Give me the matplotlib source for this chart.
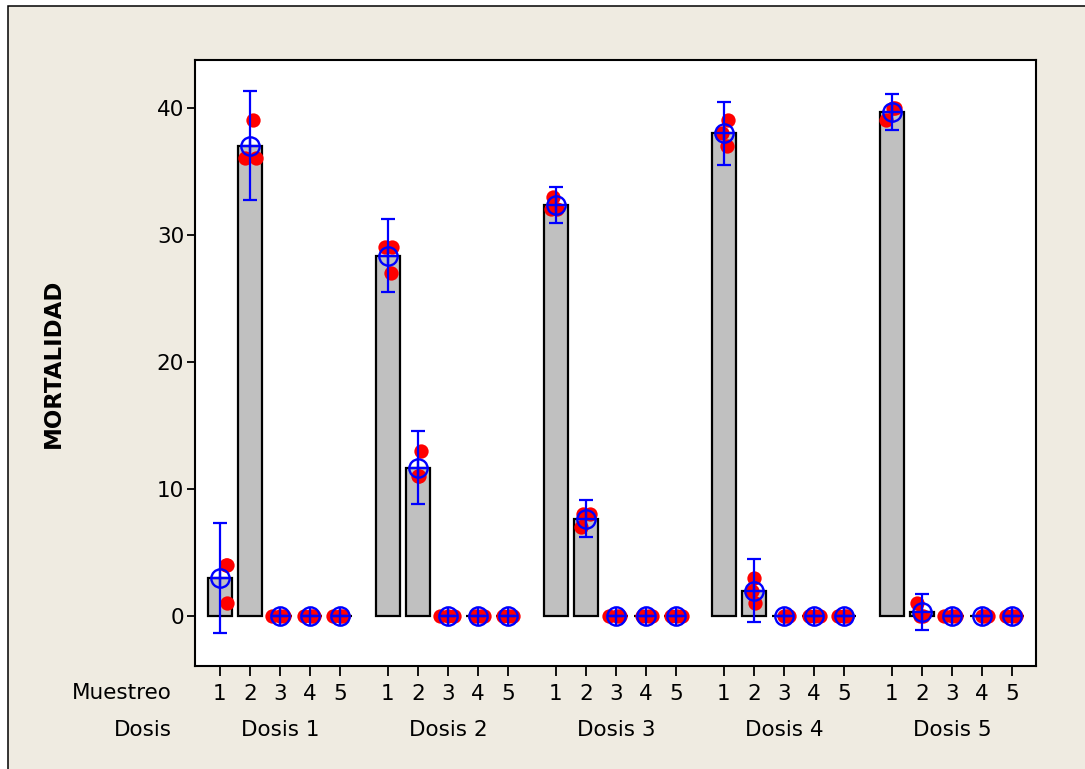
import matplotlib
matplotlib.use("Agg")
import matplotlib.pyplot as plt
import matplotlib.transforms as mtransforms
from matplotlib.patches import Rectangle

# ---------------- data ----------------
dosis = ["Dosis 1", "Dosis 2", "Dosis 3", "Dosis 4", "Dosis 5"]
muestreo = ["1", "2", "3", "4", "5"]

# mean mortality per (dosis, muestreo)
medias_d1 = [3.0, 37.0, 0, 0, 0]
medias_d2 = [28.33, 11.67, 0, 0, 0]
medias_d3 = [32.33, 7.67, 0, 0, 0]
medias_d4 = [38.0, 2.0, 0, 0, 0]
medias_d5 = [39.67, 0.33, 0, 0, 0]
medias = [medias_d1, medias_d2, medias_d3, medias_d4, medias_d5]

# 95% CI half-widths
ic_d1 = [4.3, 4.3, 0, 0, 0]
ic_d2 = [2.87, 2.87, 0, 0, 0]
ic_d3 = [1.43, 1.43, 0, 0, 0]
ic_d4 = [2.48, 2.48, 0, 0, 0]
ic_d5 = [1.43, 1.43, 0, 0, 0]
ic95 = [ic_d1, ic_d2, ic_d3, ic_d4, ic_d5]

# individual observations (3 per cell)
obs_d1 = [[4, 4, 1], [39, 36, 36], [0, 0, 0], [0, 0, 0], [0, 0, 0]]
obs_d2 = [[29, 29, 27], [13, 11, 11], [0, 0, 0], [0, 0, 0], [0, 0, 0]]
obs_d3 = [[33, 32, 32], [8, 8, 7], [0, 0, 0], [0, 0, 0], [0, 0, 0]]
obs_d4 = [[39, 38, 37], [3, 2, 1], [0, 0, 0], [0, 0, 0], [0, 0, 0]]
obs_d5 = [[40, 39, 40], [1, 0, 0], [0, 0, 0], [0, 0, 0], [0, 0, 0]]
observaciones = [obs_d1, obs_d2, obs_d3, obs_d4, obs_d5]

# horizontal jitter of the individual points (in category units)
jit_d1 = [[0.2, 0.25, 0.22], [0.1, -0.15, 0.2], [-0.25, 0.0, 0.12], [-0.2, 0.05, 0.15], [-0.22, 0.1, 0.0]]
jit_d2 = [[-0.1, 0.15, 0.1], [0.1, 0.0, 0.05], [-0.28, 0.0, 0.2], [-0.1, 0.1, 0.2], [-0.15, 0.05, 0.18]]
jit_d3 = [[-0.1, -0.15, 0.05], [-0.1, 0.15, -0.15], [-0.22, 0.05, 0.12], [-0.12, 0.1, 0.2], [-0.15, 0.05, 0.2]]
jit_d4 = [[0.15, -0.05, 0.1], [0.0, -0.05, 0.05], [0.0, 0.1, 0.18], [-0.15, 0.05, 0.2], [-0.2, 0.1, 0.0]]
jit_d5 = [[0.05, -0.2, 0.1], [-0.15, -0.05, 0.05], [-0.25, 0.0, 0.12], [0.0, 0.1, 0.2], [-0.2, 0.0, 0.12]]
jitter = [jit_d1, jit_d2, jit_d3, jit_d4, jit_d5]

# ---------------- figure ----------------
W, H = 1085, 769
fig = plt.figure(figsize=(W / 100, H / 100), dpi=100, facecolor="white")
plt.rcParams["font.family"] = ["DejaVu Sans"]

beige = "#EFEBE1"
frame = Rectangle((8.3 / W, -0.05), 1.2, 1 - 6.3 / H + 0.05, transform=fig.transFigure,
                  facecolor=beige, edgecolor="black", linewidth=1.1, zorder=-10)
fig.patches.append(frame)

left, right = 195.3 / W, 1036 / W
bottom, top = 1 - 665.7 / H, 1 - 60 / H
ax = fig.add_axes([left, bottom, right - left, top - bottom])
ax.set_zorder(1)
ax.set_facecolor("white")

gstep = 5.6
positions, labels = [], []
for g in range(len(dosis)):
    for i in range(len(muestreo)):
        positions.append(g * gstep + i)
        labels.append(muestreo[i])

blue = "#0000FF"
red = "#FF0000"

for g in range(len(dosis)):
    for i in range(len(muestreo)):
        x = g * gstep + i
        m = medias[g][i]
        ax.bar(x, m, width=0.83, color="#C0C0C0", edgecolor="black", linewidth=1.6, zorder=2)
        xs = [x + j for j in jitter[g][i]]
        ax.plot(xs, observaciones[g][i], "o", color=red, markersize=10.3,
                markeredgewidth=0, linestyle="none", zorder=3)
        ax.errorbar(x, m, yerr=ic95[g][i], fmt="none", ecolor=blue, elinewidth=1.6,
                    capsize=5, capthick=1.6, zorder=4)
        ax.plot(x, m, "o", markersize=13.2, markerfacecolor="none", markeredgecolor=blue,
                markeredgewidth=1.7, zorder=5)
        ax.plot(x, m, "+", markersize=13.2, color=blue, markeredgewidth=1.7, zorder=5)

ax.set_xlim(-0.823, 27.2)
ax.set_ylim(-3.91, 43.75)

ax.set_xticks(positions)
ax.set_xticklabels(labels, fontsize=15.5)
ax.set_yticks([0, 10, 20, 30, 40])
ax.set_yticklabels(["0", "10", "20", "30", "40"], fontsize=15.5)
ax.tick_params(axis="x", direction="out", length=7.5, width=1.3, pad=6, colors="black")
ax.tick_params(axis="y", direction="out", length=6, width=1.3, pad=2, colors="black")
for s in ax.spines.values():
    s.set_linewidth(1.5)
    s.set_color("black")

# row labels
fig.text(172 / W, 1 - 693 / H, "Muestreo", ha="right", va="center", fontsize=15.5)
fig.text(172 / W, 1 - 730 / H, "Dosis", ha="right", va="center", fontsize=15.5)
trans = mtransforms.blended_transform_factory(ax.transData, fig.transFigure)
for g, name in enumerate(dosis):
    ax.text(g * gstep + 2, 1 - 730 / H, name, transform=trans, ha="center", va="center",
            fontsize=15.5, clip_on=False)

fig.text(53 / W, 1 - 363 / H, "MORTALIDAD", rotation=90, ha="center", va="center",
         fontsize=16.5, fontweight="bold")

fig.savefig("out.png", dpi=100, facecolor=fig.get_facecolor())
